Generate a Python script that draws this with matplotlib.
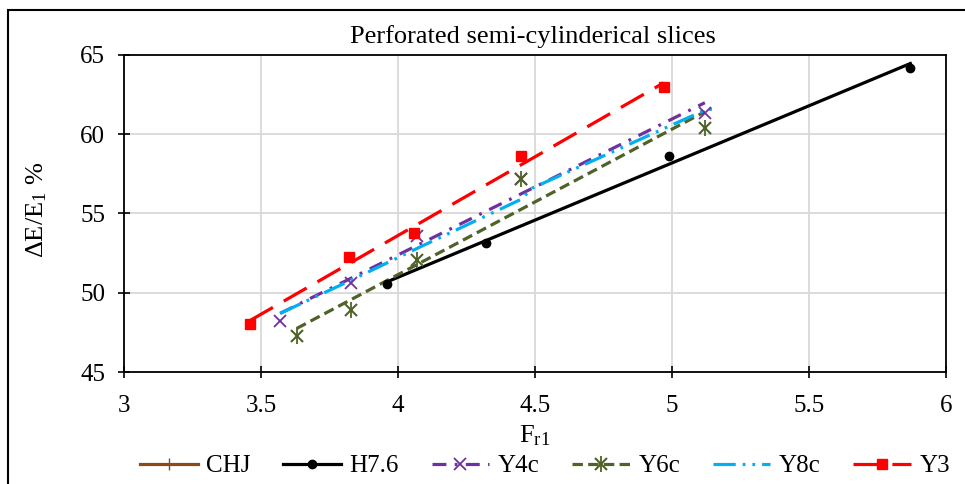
import matplotlib
matplotlib.use("Agg")
import matplotlib.pyplot as plt
import numpy as np
from matplotlib.lines import Line2D
from matplotlib.legend_handler import HandlerTuple
from matplotlib.patches import Rectangle

plt.rcParams["font.family"] = ["Liberation Serif", "DejaVu Serif"]
plt.rcParams["mathtext.fontset"] = "custom"
plt.rcParams["mathtext.rm"] = "Liberation Serif"
plt.rcParams["mathtext.it"] = "Liberation Serif:italic"
plt.rcParams["lines.scale_dashes"] = False

# data
chj_x = []
chj_y = []
h76_x = [3.96, 4.32, 4.99, 5.87]
h76_y = [50.55, 53.15, 58.65, 64.2]
y4c_x = [3.57, 3.83, 4.07, 4.45, 5.12]
y4c_y = [48.2, 50.6, 53.55, 57.15, 61.35]
y6c_x = [3.63, 3.83, 4.07, 4.45, 5.12]
y6c_y = [47.3, 48.9, 52.05, 57.15, 60.4]
y8c_x = [3.57, 3.83, 4.07, 4.45, 4.49, 5.13, 5.17]
y8c_y = [48.7, 50.8, 52.8, 55.9, 56.6, 61.6, 61.5]
y3_x = [3.46, 3.82, 4.06, 4.45, 4.97]
y3_y = [48.0, 52.25, 53.75, 58.65, 62.95]

c_chj = "#8E4A17"
c_h76 = "black"
c_y4c = "#7030A0"
c_y6c = "#4F6228"
c_y8c = "#00B0F0"
c_y3 = "#FF0000"

ls_y4c = (0, (10, 6, 2, 6))
ls_y6c = (0, (7.5, 3.8))
ls_y8c = (0, (16, 5, 2, 5, 2, 5))
ls_y3 = (0, (19, 9))
lw = 2.3

fig = plt.figure(figsize=(9.65, 4.84), dpi=100)
ax = fig.add_axes([0.1285, 0.2314, 0.8518, 0.655])


def trend(x, y):
    p = np.polyfit(x, y, 1)
    xs = np.array([min(x), max(x)])
    return xs, np.polyval(p, xs)


# linear trendlines
tx, ty = trend(h76_x, h76_y)
ax.plot(tx, ty, color=c_h76, lw=lw, zorder=3)
tx, ty = trend(y4c_x, y4c_y)
ax.plot(tx, ty, color=c_y4c, lw=lw, linestyle=ls_y4c, zorder=3)
tx, ty = trend(y6c_x, y6c_y)
ax.plot(tx, ty, color=c_y6c, lw=lw, linestyle=ls_y6c, zorder=3)
tx, ty = trend(y3_x, y3_y)
ax.plot(tx, ty, color=c_y3, lw=lw, linestyle=ls_y3, zorder=3)

# Y8c drawn as a line through its points
ax.plot(y8c_x, y8c_y, color=c_y8c, lw=lw, linestyle=ls_y8c, zorder=3)

# markers
ax.plot(chj_x, chj_y, "+", color=c_chj, ms=9, zorder=4)
ax.plot(h76_x, h76_y, "o", color=c_h76, ms=6, zorder=4)
ax.plot(y4c_x, y4c_y, "x", color=c_y4c, ms=9, mew=1.3, zorder=4)
ax.plot(y6c_x, y6c_y, "x", color=c_y6c, ms=9, mew=1.5, zorder=5)
ax.plot(y6c_x, y6c_y, "|", color=c_y6c, ms=11, mew=1.3, zorder=5)
ax.plot(y3_x, y3_y, "s", color=c_y3, ms=6.5, zorder=6)

ax.set_xlim(3, 6)
ax.set_ylim(45, 65)
ax.set_xticks([3, 3.5, 4, 4.5, 5, 5.5, 6])
ax.set_xticklabels(["3", "3.5", "4", "4.5", "5", "5.5", "6"])
ax.set_yticks([45, 50, 55, 60, 65])
ax.grid(color="#D9D9D9", lw=1.3)
ax.set_axisbelow(True)
for s in ax.spines.values():
    s.set_linewidth(1.3)
    s.set_color("black")
ax.tick_params(direction="inout", length=9, width=1.2, labelsize=18)
ax.tick_params(axis="x", pad=12)
ax.tick_params(axis="y", pad=9)

ax.set_xlabel(r"F$_{\mathrm{r1}}$", fontsize=19)
ax.xaxis.label.set_va("center")
ax.xaxis.set_label_coords(0.5, -0.2)
ax.set_ylabel(r"ΔE/E$_{\mathrm{1}}$ %", fontsize=19)
ax.yaxis.label.set_va("center")
ax.yaxis.set_label_coords(-0.106, 0.51)

fig.text(533 / 965, 1 - 37 / 484, "Perforated semi-cylinderical slices",
         ha="center", va="center", fontsize=19)

# legend
h_chj = Line2D([], [], color=c_chj, lw=lw, marker="+", ms=9)
h_h76 = Line2D([], [], color=c_h76, lw=lw, marker="o", ms=6)
h_y4c = Line2D([], [], color=c_y4c, lw=lw, linestyle=ls_y4c, marker="x", ms=9, mew=1.3)
h_y6c = (Line2D([], [], color=c_y6c, lw=lw, linestyle=ls_y6c, marker="x", ms=9, mew=1.5),
         Line2D([], [], color=c_y6c, linestyle="none", marker="|", ms=11, mew=1.3))
h_y8c = Line2D([], [], color=c_y8c, lw=lw, linestyle=ls_y8c)
h_y3 = Line2D([], [], color=c_y3, lw=lw, linestyle=ls_y3, marker="s", ms=6.5)
fig.legend([h_chj, h_h76, h_y4c, h_y6c, h_y8c, h_y3],
           ["CHJ", "H7.6", "Y4c", "Y6c", "Y8c", "Y3"],
           handler_map={tuple: HandlerTuple(ndivide=1)},
           loc="center", bbox_to_anchor=(545 / 965, 1 - 466 / 484), ncol=6,
           frameon=False, fontsize=18, handlelength=2.3, handletextpad=0.35,
           columnspacing=1.3, numpoints=1)

# outer chart border
fig.patches.append(Rectangle((8 / 965, -0.1), 1.2, 1.1 - 10 / 484,
                             transform=fig.transFigure, fill=False,
                             edgecolor="black", lw=1.5))

fig.savefig("out.png", dpi=100)
